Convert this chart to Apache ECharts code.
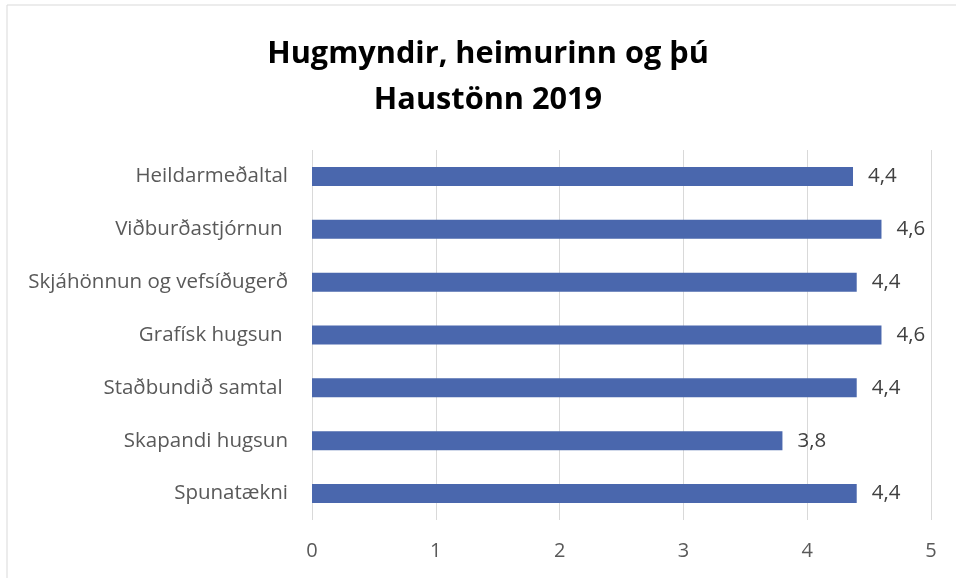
<!DOCTYPE html>
<html>
<head>
<meta charset="utf-8">
<style>
  html, body { margin: 0; padding: 0; background: #fff; }
  #chart { width: 956px; height: 578px; }
</style>
<script src="https://cdn.jsdelivr.net/npm/echarts@6/dist/echarts.min.js"></script>
</head>
<body>
<div id="chart"></div>
<script>
// top to bottom as in the picture
const categories = ['Heildarmeðaltal', 'Viðburðastjórnun ', 'Skjáhönnun og vefsíðugerð', 'Grafísk hugsun ', 'Staðbundið samtal ', 'Skapandi hugsun', 'Spunatækni']
const scores = [4.37, 4.6, 4.4, 4.6, 4.4, 3.8, 4.4]
const xTicks = [0, 1, 2, 3, 4, 5]
const titleLines = ['Hugmyndir, heimurinn og þú', 'Haustönn 2019']

const chart = echarts.init(document.getElementById('chart'))
const font = '"Open Sans", "Noto Sans", sans-serif'

chart.setOption({
  backgroundColor: '#fff',
  animation: false,
  graphic: [
    { type: 'rect', shape: { x: 7, y: 5, width: 960, height: 590 }, style: { fill: 'none', stroke: '#d9d9d9', lineWidth: 1 }, silent: true },
    {
      type: 'text', x: 488, y: 31, silent: true,
      style: {
        text: titleLines.join('\n'), textAlign: 'center', textVerticalAlign: 'top',
        fontFamily: font, fontWeight: 'bold', fontSize: 30.7, lineHeight: 46, fill: '#000'
      }
    }
  ],
  grid: { left: 312, right: 25, top: 150, bottom: 58 },
  xAxis: {
    type: 'value', min: xTicks[0], max: xTicks[xTicks.length - 1], interval: 1,
    axisLine: { show: false }, axisTick: { show: false },
    axisLabel: { color: '#595959', fontFamily: font, fontSize: 20, margin: 21 },
    splitLine: { lineStyle: { color: '#d9d9d9', width: 1 } }
  },
  yAxis: {
    type: 'category', data: categories, inverse: true,
    axisLine: { show: false }, axisTick: { show: false },
    axisLabel: { color: '#595959', fontFamily: font, fontSize: 20.5, margin: 24 }
  },
  series: [{
    type: 'bar', data: scores, barWidth: 19,
    itemStyle: { color: '#4a67ad' },
    label: {
      show: true, position: 'right', distance: 15, color: '#404040', fontFamily: font, fontSize: 20.5,
      formatter: (p) => p.value.toFixed(1).replace('.', ',')
    }
  }]
})
</script>
</body>
</html>
